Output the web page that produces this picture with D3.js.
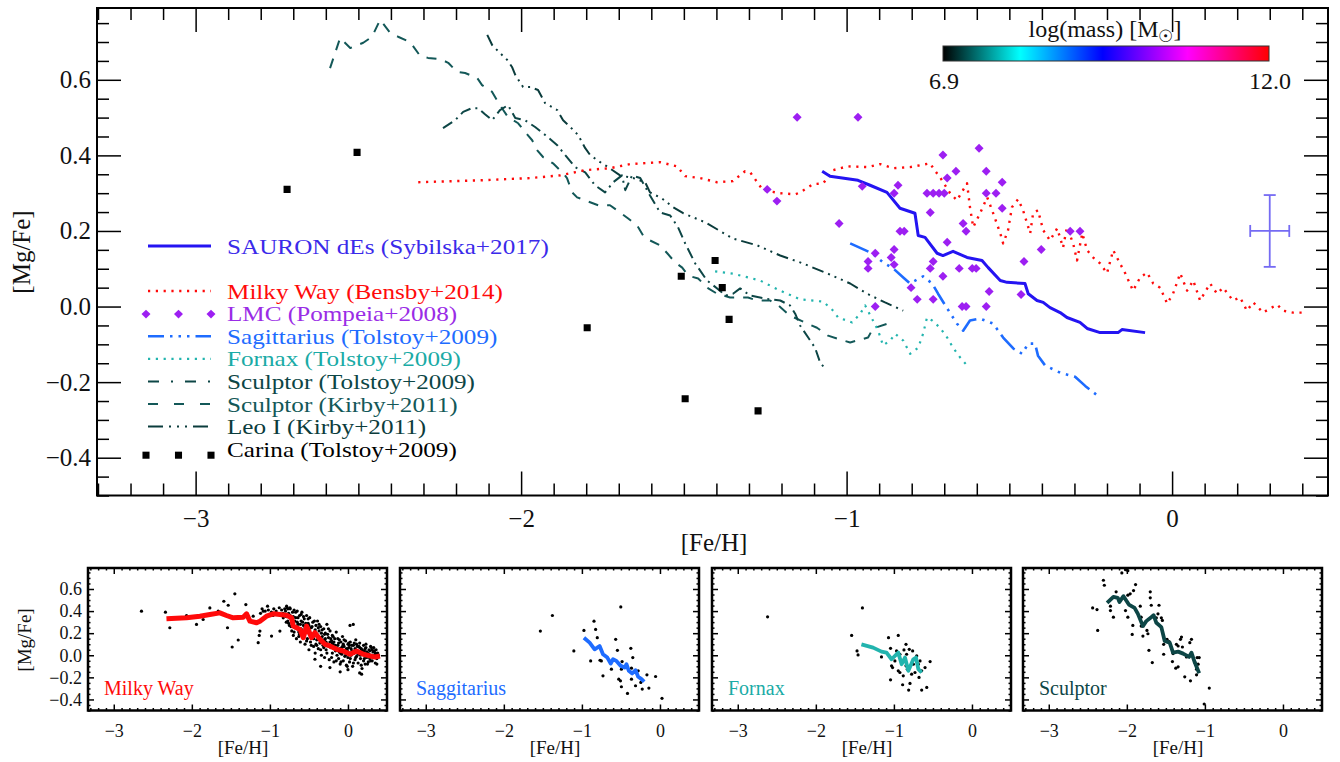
<!DOCTYPE html>
<html><head><meta charset="utf-8">
<script src="https://cdn.jsdelivr.net/npm/d3@7"></script>
<style>
body{margin:0;background:#fff}
svg{display:block}
text{font-family:"Liberation Serif","Times New Roman",serif}
</style>
</head><body>
<svg id="c" width="1340" height="762"></svg>
<script>
// ---------------- DATA ----------------
const xTicks = [-3, -2, -1, 0];
const yTicks = [-0.4, -0.2, 0.0, 0.2, 0.4, 0.6];
const panelYTicks = [-0.4, -0.2, 0.0, 0.2, 0.4, 0.6];

const sauron = [[-1.075,0.358],[-1.051,0.345],[-0.965,0.334],[-0.928,0.321],[-0.876,0.302],[-0.836,0.260],[-0.790,0.247],[-0.780,0.188],[-0.759,0.183],[-0.722,0.141],[-0.704,0.135],[-0.673,0.146],[-0.630,0.130],[-0.584,0.122],[-0.565,0.103],[-0.528,0.069],[-0.507,0.064],[-0.452,0.061],[-0.442,0.034],[-0.415,0.016],[-0.396,0.011],[-0.375,-0.003],[-0.344,-0.016],[-0.323,-0.029],[-0.283,-0.042],[-0.261,-0.058],[-0.221,-0.069],[-0.166,-0.069],[-0.154,-0.061],[-0.083,-0.069]];

const milkyWay = [[-2.316,0.329],[-2.126,0.334],[-1.972,0.340],[-1.880,0.347],[-1.803,0.361],[-1.727,0.366],[-1.665,0.377],[-1.573,0.382],[-1.521,0.371],[-1.496,0.345],[-1.450,0.340],[-1.398,0.329],[-1.349,0.332],[-1.312,0.358],[-1.296,0.355],[-1.272,0.326],[-1.257,0.308],[-1.204,0.300],[-1.158,0.297],[-1.143,0.302],[-1.103,0.324],[-1.072,0.326],[-1.041,0.361],[-0.998,0.371],[-0.934,0.369],[-0.897,0.377],[-0.857,0.366],[-0.805,0.369],[-0.743,0.379],[-0.734,0.366],[-0.713,0.342],[-0.682,0.300],[-0.661,0.281],[-0.630,0.326],[-0.621,0.263],[-0.611,0.210],[-0.590,0.247],[-0.568,0.289],[-0.553,0.255],[-0.528,0.194],[-0.519,0.167],[-0.504,0.202],[-0.492,0.263],[-0.473,0.284],[-0.458,0.255],[-0.436,0.194],[-0.427,0.247],[-0.412,0.255],[-0.396,0.202],[-0.375,0.175],[-0.353,0.207],[-0.335,0.156],[-0.323,0.210],[-0.304,0.167],[-0.292,0.122],[-0.276,0.194],[-0.261,0.149],[-0.243,0.130],[-0.221,0.114],[-0.200,0.088],[-0.181,0.149],[-0.160,0.114],[-0.144,0.088],[-0.120,0.042],[-0.098,0.077],[-0.077,0.090],[-0.058,0.061],[-0.037,0.050],[-0.015,0.008],[0.003,0.034],[0.025,0.088],[0.046,0.042],[0.065,0.069],[0.086,0.016],[0.117,0.061],[0.138,0.034],[0.157,0.050],[0.187,0.016],[0.209,0.024],[0.230,-0.011],[0.249,0.011],[0.280,-0.016],[0.301,-0.005],[0.323,0.005],[0.341,-0.011],[0.372,-0.016],[0.402,-0.016]];

const lmc = [[-1.152,0.501],[-0.965,0.501],[-1.244,0.310],[-1.214,0.279],[-1.023,0.220],[-0.952,0.318],[-0.842,0.321],[-0.854,0.300],[-0.753,0.300],[-0.734,0.300],[-0.716,0.300],[-0.700,0.300],[-0.743,0.249],[-0.836,0.199],[-0.823,0.199],[-0.912,0.141],[-0.854,0.151],[-0.863,0.130],[-0.934,0.119],[-0.934,0.101],[-0.854,0.111],[-0.802,0.050],[-0.783,0.019],[-0.734,0.019],[-0.743,0.101],[-0.734,0.119],[-0.912,0.000],[-0.593,0.419],[-0.704,0.401],[-0.664,0.358],[-0.571,0.358],[-0.691,0.340],[-0.522,0.329],[-0.571,0.300],[-0.541,0.300],[-0.522,0.260],[-0.642,0.220],[-0.633,0.199],[-0.313,0.199],[-0.283,0.199],[-0.691,0.170],[-0.402,0.151],[-0.455,0.119],[-0.654,0.101],[-0.614,0.101],[-0.602,0.101],[-0.704,0.080],[-0.562,0.040],[-0.464,0.032],[-0.645,0.000],[-0.633,0.000],[-0.571,0.000]];

const sagittarius = [[-0.989,0.167],[-0.922,0.141],[-0.888,0.117],[-0.857,0.101],[-0.826,0.077],[-0.805,0.061],[-0.765,0.080],[-0.737,0.061],[-0.719,0.034],[-0.691,-0.005],[-0.661,-0.045],[-0.642,-0.064],[-0.621,-0.037],[-0.590,-0.032],[-0.550,-0.045],[-0.519,-0.082],[-0.488,-0.111],[-0.461,-0.125],[-0.442,-0.098],[-0.421,-0.098],[-0.412,-0.130],[-0.390,-0.156],[-0.344,-0.175],[-0.298,-0.186],[-0.267,-0.210],[-0.221,-0.241]];

const fornax = [[-1.404,0.093],[-1.349,0.087],[-1.266,0.069],[-1.204,0.042],[-1.143,0.019],[-1.072,0.013],[-1.041,-0.011],[-1.026,-0.029],[-0.983,-0.042],[-0.958,-0.019],[-0.943,0.003],[-0.919,-0.037],[-0.903,-0.064],[-0.888,-0.103],[-0.866,-0.090],[-0.851,-0.072],[-0.826,-0.090],[-0.805,-0.125],[-0.780,-0.109],[-0.765,-0.072],[-0.753,-0.029],[-0.737,-0.037],[-0.713,-0.056],[-0.691,-0.082],[-0.673,-0.109],[-0.651,-0.135],[-0.630,-0.156]];

const sculptorT = [[-2.240,0.472],[-2.203,0.493],[-2.178,0.515],[-2.151,0.525],[-2.132,0.525],[-2.111,0.509],[-2.089,0.493],[-2.065,0.520],[-2.040,0.533],[-2.018,0.499],[-1.988,0.493],[-1.957,0.475],[-1.926,0.454],[-1.889,0.427],[-1.865,0.401],[-1.834,0.369],[-1.803,0.355],[-1.773,0.321],[-1.742,0.302],[-1.717,0.329],[-1.690,0.347],[-1.680,0.308],[-1.659,0.347],[-1.634,0.340],[-1.604,0.294],[-1.573,0.249],[-1.542,0.241],[-1.518,0.210],[-1.496,0.167],[-1.465,0.114],[-1.429,0.069],[-1.389,0.042],[-1.373,0.029],[-1.349,0.034],[-1.327,0.048],[-1.296,0.029],[-1.250,0.021],[-1.204,0.016],[-1.174,0.003],[-1.158,-0.019],[-1.143,-0.050],[-1.118,-0.082],[-1.097,-0.109],[-1.081,-0.149],[-1.066,-0.164]];

const sculptorK = [[-2.587,0.631],[-2.556,0.711],[-2.525,0.684],[-2.485,0.698],[-2.458,0.714],[-2.433,0.759],[-2.402,0.724],[-2.378,0.714],[-2.341,0.700],[-2.310,0.663],[-2.286,0.658],[-2.249,0.655],[-2.224,0.645],[-2.197,0.621],[-2.172,0.618],[-2.135,0.605],[-2.120,0.586],[-2.089,0.568],[-2.074,0.546],[-2.055,0.520],[-2.040,0.501],[-2.009,0.485],[-1.988,0.462],[-1.966,0.440],[-1.951,0.414],[-1.932,0.395],[-1.902,0.379],[-1.871,0.353],[-1.859,0.340],[-1.843,0.302],[-1.828,0.289],[-1.788,0.276],[-1.763,0.268],[-1.727,0.268],[-1.696,0.249],[-1.671,0.233],[-1.644,0.215],[-1.625,0.188],[-1.604,0.175],[-1.573,0.162],[-1.551,0.141],[-1.527,0.117],[-1.505,0.103],[-1.487,0.082],[-1.456,0.074],[-1.425,0.048],[-1.398,0.034],[-1.358,0.024],[-1.303,0.024],[-1.275,0.016],[-1.235,0.016],[-1.210,0.003],[-1.174,-0.024],[-1.121,-0.045],[-1.091,-0.056],[-1.057,-0.077],[-1.029,-0.085],[-0.989,-0.095],[-0.968,-0.090],[-0.934,-0.082],[-0.919,-0.058],[-0.873,-0.045],[-0.851,-0.042]];

const leoI = [[-2.104,0.719],[-2.089,0.692],[-2.080,0.684],[-2.065,0.671],[-2.043,0.653],[-2.028,0.634],[-2.018,0.613],[-1.994,0.581],[-1.972,0.581],[-1.948,0.573],[-1.926,0.538],[-1.889,0.520],[-1.871,0.493],[-1.849,0.475],[-1.825,0.454],[-1.803,0.419],[-1.788,0.401],[-1.757,0.382],[-1.733,0.369],[-1.696,0.347],[-1.656,0.340],[-1.619,0.329],[-1.604,0.302],[-1.567,0.286],[-1.533,0.263],[-1.502,0.247],[-1.435,0.223],[-1.349,0.180],[-1.275,0.162],[-1.204,0.135],[-1.143,0.117],[-1.060,0.088],[-0.989,0.061],[-0.937,0.034],[-0.882,0.011],[-0.826,-0.011]];

const carina = [[-2.719,0.310],[-2.504,0.408],[-1.797,-0.056],[-1.508,0.080],[-1.404,0.122],[-1.382,0.050],[-1.361,-0.034],[-1.496,-0.244],[-1.272,-0.276]];

const errorBar = {x:0.30, y:0.20, dx:0.06, dy:0.095};

const legendLabels = ["SAURON dEs (Sybilska+2017)","Milky Way (Bensby+2014)","LMC (Pompeia+2008)","Sagittarius (Tolstoy+2009)","Fornax (Tolstoy+2009)","Sculptor (Tolstoy+2009)","Sculptor (Kirby+2011)","Leo I (Kirby+2011)","Carina (Tolstoy+2009)"];

const colorbarTitle = "log(mass) [M";
const colorbarRange = ["6.9","12.0"];

const panelNames = ["Milky Way","Saggitarius","Fornax","Sculptor"];

const mwMean = [[-2.325,0.330],[-2.068,0.339],[-1.897,0.354],[-1.769,0.369],[-1.641,0.384],[-1.556,0.360],[-1.470,0.339],[-1.342,0.345],[-1.299,0.375],[-1.256,0.309],[-1.171,0.294],[-1.128,0.309],[-1.043,0.354],[-0.957,0.375],[-0.872,0.369],[-0.786,0.363],[-0.722,0.339],[-0.701,0.264],[-0.615,0.234],[-0.573,0.159],[-0.530,0.264],[-0.466,0.159],[-0.423,0.204],[-0.359,0.144],[-0.295,0.099],[-0.231,0.084],[-0.145,0.054],[-0.060,0.039],[0.026,0.009],[0.111,0.039],[0.197,0.009],[0.282,-0.006],[0.346,-0.015],[0.410,-0.006]];

const mwStars = [[-2.645,0.399],[-2.338,0.390],[-2.282,0.249],[-2.068,0.360],[-1.940,0.279],[-1.855,0.324],[-1.769,0.429],[-1.662,0.399],[-1.590,0.489],[-1.534,0.453],[-1.449,0.556],[-1.543,0.249],[-1.483,0.075],[-1.406,0.138],[-1.308,0.459],[-1.214,0.354],[-1.150,0.114],[-1.128,0.219],[-1.137,0.180],[-1.085,0.399],[-1.030,0.444],[-0.979,0.174],[-0.872,0.219],[-0.829,0.339],[-0.786,0.444],[-0.744,0.429],
[-1.10,0.42],[-1.06,0.40],[-1.02,0.41],[-0.98,0.39],[-0.95,0.42],[-0.92,0.40],[-0.90,0.37],[-0.88,0.43],[-0.85,0.41],[-0.83,0.38],[-0.81,0.42],[-1.12,0.38],[-0.96,0.36],
[-0.80,0.40],[-0.79,0.35],[-0.78,0.43],[-0.77,0.31],[-0.76,0.38],[-0.75,0.27],[-0.74,0.42],[-0.73,0.33],[-0.72,0.22],[-0.71,0.39],[-0.70,0.29],[-0.70,0.18],
[-0.69,0.41],[-0.68,0.25],[-0.67,0.34],[-0.66,0.15],[-0.65,0.40],[-0.64,0.28],[-0.63,0.21],[-0.62,0.36],[-0.61,0.12],[-0.60,0.31],[-0.60,0.24],
[-0.59,0.39],[-0.58,0.18],[-0.57,0.27],[-0.56,0.33],[-0.55,0.10],[-0.54,0.22],[-0.53,0.36],[-0.52,0.15],[-0.51,0.29],[-0.50,0.05],[-0.50,0.20],
[-0.49,0.34],[-0.48,0.12],[-0.47,0.25],[-0.46,0.17],[-0.45,0.30],[-0.44,0.08],[-0.43,0.21],[-0.42,0.02],[-0.41,0.27],[-0.40,0.14],[-0.40,0.19],
[-0.39,0.31],[-0.38,0.06],[-0.37,0.22],[-0.36,0.11],[-0.35,0.26],[-0.34,0.00],[-0.33,0.17],[-0.32,0.09],[-0.31,0.24],[-0.30,0.13],[-0.30,-0.02],
[-0.29,0.20],[-0.28,0.05],[-0.27,0.28],[-0.26,0.10],[-0.25,0.16],[-0.24,-0.04],[-0.23,0.22],[-0.22,0.07],[-0.21,0.13],[-0.20,0.02],[-0.20,0.18],
[-0.19,0.10],[-0.18,-0.06],[-0.17,0.15],[-0.16,0.04],[-0.15,0.21],[-0.14,0.00],[-0.13,0.09],[-0.12,-0.03],[-0.11,0.14],[-0.10,0.06],[-0.10,-0.08],
[-0.09,0.12],[-0.08,0.01],[-0.07,0.17],[-0.06,-0.05],[-0.05,0.08],[-0.04,0.03],[-0.03,0.13],[-0.02,-0.09],[-0.01,0.05],[0.00,-0.02],[0.00,0.10],
[0.01,0.07],[0.02,-0.06],[0.03,0.12],[0.04,0.00],[0.05,0.04],[0.06,-0.10],[0.07,0.09],[0.08,0.02],[0.09,-0.04],[0.10,0.14],[0.10,0.05],
[0.11,-0.01],[0.12,0.08],[0.13,-0.07],[0.14,0.03],[0.15,0.11],[0.16,-0.03],[0.17,0.06],[0.18,-0.12],[0.19,0.01],[0.20,0.09],[0.20,-0.05],
[0.21,0.04],[0.22,-0.08],[0.23,0.07],[0.24,-0.02],[0.25,0.02],[0.26,-0.06],[0.27,0.05],[0.28,-0.03],[0.29,0.08],[0.30,0.00],
[0.31,-0.05],[0.32,0.03],[0.33,-0.02],[0.34,0.04],[0.35,-0.07],[0.36,0.01],[0.37,-0.03],[0.38,0.02],
[0.026,0.27],[0.068,0.279],[-0.231,-0.111],[-0.423,-0.036],[0.175,-0.171],[-0.10,-0.15],[0.15,-0.16],[-0.35,-0.10],[0.00,-0.13],
[-0.79,0.30],[-0.77,0.42],[-0.75,0.36],[-0.73,0.26],[-0.71,0.33],[-0.69,0.21],[-0.67,0.39],[-0.65,0.30],[-0.63,0.17],[-0.61,0.28],[-0.59,0.22],[-0.57,0.35],[-0.55,0.25],[-0.53,0.13],[-0.51,0.33],[-0.49,0.22],[-0.47,0.09],[-0.45,0.19],[-0.43,0.31],[-0.41,0.10],[-0.39,0.18],[-0.37,0.28],[-0.35,0.05],[-0.33,0.23],[-0.31,0.07],[-0.29,0.15],[-0.27,0.02],[-0.25,0.24],[-0.23,0.12],[-0.21,-0.02],[-0.19,0.17],[-0.17,0.06],[-0.15,-0.05],[-0.13,0.15],[-0.11,0.03],[-0.09,-0.06],[-0.07,0.08],[-0.05,0.14],[-0.03,0.00],[-0.01,-0.10],[0.01,0.11],[0.03,-0.03],[0.05,0.09],[0.07,-0.07],[0.09,0.06],[0.11,0.10],[0.13,0.01],[0.15,0.07],[0.17,-0.09],[0.19,0.04],[0.21,-0.03],[0.23,0.10],[0.25,-0.08],[0.27,0.01],[0.29,-0.05],[0.31,0.05],[0.33,0.07],[0.35,0.02],[0.37,-0.08],[0.39,0.00],
[-0.78,0.37],[-0.76,0.29],[-0.74,0.36],[-0.72,0.30],[-0.70,0.35],[-0.68,0.31],[-0.66,0.26],[-0.64,0.34],[-0.62,0.19],[-0.60,0.37],[-0.58,0.30],[-0.56,0.20],[-0.54,0.29],[-0.52,0.24],[-0.50,0.27],[-0.48,0.18],[-0.46,0.26],[-0.44,0.15],[-0.42,0.23],[-0.40,0.09],[-0.38,0.25],[-0.36,0.16],[-0.34,0.20],[-0.32,0.14],[-0.30,0.19],[-0.28,0.12],[-0.26,0.19],[-0.24,0.08],[-0.22,0.15],[-0.20,0.11],[-0.18,0.12],[-0.16,0.09],[-0.14,0.06],[-0.12,0.11],[-0.10,0.02],[-0.08,0.07],[-0.06,0.10],[-0.04,-0.01],[-0.02,0.06],[0.00,0.03],[0.02,0.09],[0.04,0.06],[0.06,0.02],[0.08,0.11],[0.10,-0.02],[0.12,0.03],[0.14,0.08],[0.16,0.00],[0.18,0.05],[0.20,0.01],[0.22,0.06],[0.24,0.03],[0.26,0.00],[0.28,0.04],[0.30,0.07],[0.32,-0.01],[0.34,0.00],[0.36,0.05]];

const sagMean = [[-0.974,0.159],[-0.901,0.114],[-0.837,0.054],[-0.803,0.069],[-0.773,0.084],[-0.730,0.009],[-0.674,-0.021],[-0.631,-0.075],[-0.601,-0.036],[-0.558,-0.051],[-0.502,-0.096],[-0.451,-0.111],[-0.429,-0.081],[-0.399,-0.141],[-0.356,-0.165],[-0.313,-0.135],[-0.279,-0.195],[-0.236,-0.216],[-0.202,-0.240]];
const sagStars = [[-1.532,0.219],[-1.378,0.360],[-1.103,0.039],[-0.974,0.225],[-0.845,0.309],[-0.824,0.234],[-0.803,0.159],[-0.888,-0.051],[-0.751,-0.051],[-0.768,-0.045],[-0.730,-0.186],[-0.502,0.438],[-0.567,0.144],[-0.545,0.045],[-0.485,-0.057],[-0.494,-0.126],[-0.528,-0.216],[-0.506,-0.231],[-0.494,-0.285],[-0.416,-0.345],[-0.373,0.063],[-0.348,-0.021],[-0.365,-0.117],[-0.365,-0.216],[-0.313,-0.276],[-0.279,-0.141],[-0.245,-0.246],[-0.227,-0.306],[-0.167,-0.177],[-0.142,-0.297],[-0.056,-0.192],[0.026,-0.390],[-0.622,-0.126]];

const fnxMean = [[-1.416,0.099],[-1.266,0.069],[-1.159,0.033],[-1.094,0.024],[-1.030,-0.036],[-0.944,0.024],[-0.901,-0.081],[-0.858,-0.021],[-0.815,-0.141],[-0.751,-0.036],[-0.717,-0.021],[-0.687,-0.126],[-0.644,-0.156]];
const fnxStars = [[-2.618,0.348],[-1.403,0.429],[-1.541,0.180],[-1.472,0.039],[-1.459,0.003],[-1.159,-0.015],[-1.069,0.159],[-1.043,0.063],[-1.030,-0.096],[-1.017,-0.111],[-1.043,-0.222],[-0.944,0.180],[-0.966,0.039],[-0.923,0.009],[-0.901,-0.066],[-0.944,-0.141],[-0.880,-0.186],[-0.888,-0.267],[-0.845,0.099],[-0.837,0.009],[-0.828,-0.126],[-0.811,-0.315],[-0.794,-0.255],[-0.760,0.039],[-0.751,-0.081],[-0.730,-0.156],[-0.708,-0.006],[-0.687,-0.081],[-0.678,-0.201],[-0.644,-0.315],[-0.579,-0.291],[-0.601,-0.111],[-0.536,-0.057],[-0.871,0.048],[-0.803,0.054],[-0.987,-0.051],[-0.923,-0.156],[-0.665,-0.051],[-0.644,-0.141],[-0.773,-0.171],[-0.845,-0.096]];

const sclMean = [[-2.253,0.474],[-2.172,0.529],[-2.116,0.520],[-2.094,0.483],[-2.043,0.535],[-1.974,0.459],[-1.901,0.429],[-1.858,0.375],[-1.794,0.264],[-1.751,0.309],[-1.687,0.345],[-1.657,0.363],[-1.622,0.294],[-1.558,0.255],[-1.515,0.129],[-1.451,0.114],[-1.408,0.024],[-1.343,0.033],[-1.279,0.015],[-1.202,-0.015],[-1.172,0.024],[-1.129,-0.066],[-1.073,-0.162]];
const sclStars = [[-2.438,0.429],[-2.382,0.414],[-2.373,0.225],[-2.300,0.679],[-2.288,0.634],[-2.210,0.405],[-2.210,0.444],[-2.172,0.345],[-2.137,0.574],[-2.064,0.745],[-2.017,0.775],[-1.987,0.766],[-1.914,0.586],[-1.888,0.640],[-1.987,0.544],[-1.957,0.556],[-2.017,0.405],[-1.987,0.345],[-1.923,0.270],[-1.931,0.189],[-1.828,0.444],[-1.816,0.345],[-1.794,0.174],[-1.742,0.225],[-1.730,0.195],[-1.717,0.045],[-1.700,0.574],[-1.700,0.520],[-1.687,0.453],[-1.674,-0.066],[-1.601,0.375],[-1.588,0.453],[-1.558,0.339],[-1.545,0.315],[-1.528,0.099],[-1.528,0.009],[-1.485,0.144],[-1.459,0.123],[-1.416,-0.057],[-1.408,0.015],[-1.373,-0.117],[-1.343,-0.105],[-1.365,0.099],[-1.343,0.084],[-1.313,0.144],[-1.300,0.165],[-1.288,0.075],[-1.258,-0.195],[-1.236,-0.015],[-1.193,0.114],[-1.185,-0.231],[-1.172,0.144],[-1.129,-0.066],[-1.107,-0.126],[-1.099,-0.021],[-1.087,-0.081],[-1.073,-0.021],[-1.107,-0.177],[-0.944,-0.297],[-1.009,-0.441],[-1.816,0.264],[-1.622,0.339],[-2.094,0.489]];

// ---------------- DRAWING ----------------
const svg = d3.select("#c");
const SERIF = '"Liberation Serif","Times New Roman",serif';
const C = {
  sauron:"#2414f2", sauronTxt:"#3b2aea",
  mw:"#ff0a0a", lmc:"#9d1ff2", lmcTxt:"#9a2ce6",
  sag:"#1e6cff", fnx:"#22b4ae", fnxTxt:"#1aaba6",
  sclT:"#0d4646", sclK:"#135858", leo:"#0b3c3c", car:"#000"
};

const M = {l:97, r:1328, t:8, b:495.5};
const x = d3.scaleLinear().domain([-3.303, 0.479]).range([M.l, M.r]);
const y = d3.scaleLinear().domain([-0.5, 0.79]).range([M.b, M.t]);

function styleAxis(g, fs){
  g.select(".domain").remove();
  g.selectAll(".tick line").attr("stroke","#000").attr("stroke-width",1.5);
  g.selectAll(".tick text").attr("fill","#111").attr("font-size",fs).attr("font-family",SERIF);
}
function yTicksOf(o){ return o.panel ? panelYTicks : yTicks; }

function drawAxes(root, xs, ys, o){
  const xMinor = d3.range(-33, 5).map(i => i/10).filter(v => Math.abs(v - Math.round(v)) > 1e-6);
  const yMinor = d3.range(-10, 16).map(i => i/20).filter(v => yTicksOf(o).every(t => Math.abs(t - v) > 1e-6));
  const [x0,x1] = xs.range(), [y0,y1] = ys.range();
  const add = (tr, ax) => root.append("g").attr("transform",tr).call(ax).call(g=>styleAxis(g,o.fs));
  add(`translate(0,${y0})`, d3.axisBottom(xs).tickValues(xMinor).tickSize(-o.minor).tickSizeOuter(0).tickFormat(""));
  add(`translate(0,${y0})`, d3.axisBottom(xs).tickValues(xTicks).tickSize(-o.major).tickSizeOuter(0).tickPadding(o.xpad).tickFormat(o.xlab ? d3.format("d") : ""));
  add(`translate(0,${y1})`, d3.axisTop(xs).tickValues(xMinor).tickSize(-o.minor).tickSizeOuter(0).tickFormat(""));
  add(`translate(0,${y1})`, d3.axisTop(xs).tickValues(xTicks).tickSize(-o.major).tickSizeOuter(0).tickFormat(""));
  add(`translate(${x0},0)`, d3.axisLeft(ys).tickValues(yMinor).tickSize(-o.minor).tickSizeOuter(0).tickFormat(""));
  add(`translate(${x0},0)`, d3.axisLeft(ys).tickValues(yTicksOf(o)).tickSize(-o.major).tickSizeOuter(0).tickPadding(o.ypad).tickFormat(o.ylab ? d3.format(".1f") : ""));
  add(`translate(${x1},0)`, d3.axisRight(ys).tickValues(yMinor).tickSize(-o.minor).tickSizeOuter(0).tickFormat(""));
  add(`translate(${x1},0)`, d3.axisRight(ys).tickValues(yTicksOf(o)).tickSize(-o.major).tickSizeOuter(0).tickFormat(""));
  root.append("rect").attr("x",x0).attr("y",y1).attr("width",x1-x0).attr("height",y0-y1)
    .attr("fill","none").attr("stroke","#000").attr("stroke-width",o.frame);
}

// ---- main plot ----
const defs = svg.append("defs");
const main = svg.append("g");
defs.append("clipPath").attr("id","mainclip")
  .append("rect").attr("x",M.l).attr("y",M.t).attr("width",M.r-M.l).attr("height",M.b-M.t);
const plot = main.append("g").attr("clip-path","url(#mainclip)");
const line = d3.line().x(d=>x(d[0])).y(d=>y(d[1]));

const series = [
  {data:sculptorK, color:C.sclK, w:2, dash:"10,9"},
  {data:sculptorT, color:C.sclT, w:2, dash:"11,5,2,5"},
  {data:leoI, color:C.leo, w:2, dash:"12,5,2,5,2,5,2,5"},
  {data:milkyWay, color:C.mw, w:2.4, dash:"2.2,5.6"},
  {data:fornax, color:C.fnx, w:2.2, dash:"2.2,5.6"},
  {data:sagittarius, color:C.sag, w:2.6, dash:"20,6,2.5,6,2.5,6,2.5,6"},
  {data:sauron, color:C.sauron, w:3, dash:null}
];
series.forEach(s=>{
  plot.append("path").attr("d",line(s.data)).attr("fill","none")
    .attr("stroke",s.color).attr("stroke-width",s.w)
    .attr("stroke-dasharray",s.dash).attr("stroke-linejoin","round");
});
const diamond = d3.symbol(d3.symbolSquare, 40);
plot.selectAll(".lmc").data(lmc).join("path")
  .attr("d",diamond).attr("fill",C.lmc)
  .attr("transform",d=>`translate(${x(d[0])},${y(d[1])}) rotate(45)`);
const square = d3.symbol(d3.symbolSquare, 50);
plot.selectAll(".car").data(carina).join("path")
  .attr("d",square).attr("fill",C.car)
  .attr("transform",d=>`translate(${x(d[0])},${y(d[1])})`);

// error bar
const eb = main.append("g").attr("stroke","#5e52f2").attr("stroke-width",1.8).attr("opacity",0.85);
eb.append("line").attr("x1",x(errorBar.x)).attr("x2",x(errorBar.x)).attr("y1",y(errorBar.y-errorBar.dy)).attr("y2",y(errorBar.y+errorBar.dy));
eb.append("line").attr("x1",x(errorBar.x-errorBar.dx)).attr("x2",x(errorBar.x+errorBar.dx)).attr("y1",y(errorBar.y)).attr("y2",y(errorBar.y));
[errorBar.y-errorBar.dy, errorBar.y+errorBar.dy].forEach(v=>
  eb.append("line").attr("x1",x(errorBar.x)-6).attr("x2",x(errorBar.x)+6).attr("y1",y(v)).attr("y2",y(v)));
[errorBar.x-errorBar.dx, errorBar.x+errorBar.dx].forEach(v=>
  eb.append("line").attr("x1",x(v)).attr("x2",x(v)).attr("y1",y(errorBar.y)-6).attr("y2",y(errorBar.y)+6));

drawAxes(main, x, y, {major:24, minor:12, fs:25, xpad:14, ypad:6, xlab:true, ylab:true, frame:2});

main.append("text").attr("x",714).attr("y",551).attr("text-anchor","middle")
  .attr("font-size",25).attr("fill","#111").text("[Fe/H]");
main.append("text").attr("transform","translate(30,252) rotate(-90)").attr("text-anchor","middle")
  .attr("font-size",25).attr("fill","#111").text("[Mg/Fe]");

// ---- legend ----
const lg = main.append("g");
const rowsY = [246, 291, 313.6, 336.2, 358.8, 381.4, 404, 426.6, 449.2];
const legendStyle = [
  {c:C.sauron, t:C.sauronTxt, kind:"line", w:3, dash:null},
  {c:C.mw, t:C.mw, kind:"line", w:2.4, dash:"2.2,5.6"},
  {c:C.lmc, t:C.lmcTxt, kind:"diamond"},
  {c:C.sag, t:C.sag, kind:"line", w:2.6, dash:"16,6,2.5,6,2.5,6,2.5,6"},
  {c:C.fnx, t:C.fnxTxt, kind:"line", w:2.2, dash:"2.2,5.6"},
  {c:C.sclT, t:C.sclT, kind:"line", w:2, dash:"11,12,2,12"},
  {c:C.sclK, t:C.sclK, kind:"line", w:2, dash:"10,16"},
  {c:C.leo, t:C.leo, kind:"line", w:2, dash:"15,6,2,6,2,6,2,6"},
  {c:C.car, t:"#000", kind:"square"}
];
legendLabels.forEach((lab,i)=>{
  const st = legendStyle[i], yy = rowsY[i];
  if(st.kind==="line"){
    lg.append("line").attr("x1",148).attr("x2",211).attr("y1",yy).attr("y2",yy)
      .attr("stroke",st.c).attr("stroke-width",st.w).attr("stroke-dasharray",st.dash);
  } else {
    [146,178.5,211].forEach(xx=>{
      lg.append("path").attr("d", st.kind==="diamond" ? diamond() : square())
        .attr("fill",st.c)
        .attr("transform", st.kind==="diamond" ? `translate(${xx},${yy+0.5}) rotate(45)` : `translate(${xx},${yy+6})`);
    });
  }
  // compact height so stacked rows do not collide; widened to match the reference label widths
  lg.append("text").attr("transform",`translate(227,${yy+7.5}) scale(1.24,1)`)
    .attr("font-size",20.3).attr("fill",st.t).text(lab);
});

// ---- colorbar ----
const grad = defs.append("linearGradient").attr("id","cb").attr("x1","0%").attr("x2","100%");
[[0,"#000000"],[0.237,"#00ffff"],[0.49,"#0000ff"],[0.75,"#ff00ff"],[1,"#ff0000"]].forEach(s=>
  grad.append("stop").attr("offset",s[0]).attr("stop-color",s[1]));
main.append("rect").attr("x",943).attr("y",46).attr("width",326).attr("height",15)
  .attr("fill","url(#cb)").attr("stroke","#333").attr("stroke-width",1);
const ct = main.append("text").attr("x",1105).attr("y",37).attr("text-anchor","middle")
  .attr("font-size",24).attr("fill","#111");
ct.append("tspan").text(colorbarTitle);
ct.append("tspan").attr("dy",5).attr("font-size",17).text("\u2609");
ct.append("tspan").attr("dy",-5).text("]");
main.append("text").attr("x",929).attr("y",89).attr("font-size",24).attr("fill","#111").text(colorbarRange[0]);
main.append("text").attr("x",1291).attr("y",89).attr("text-anchor","end").attr("font-size",24).attr("fill","#111").text(colorbarRange[1]);

// ---- bottom panels ----
const panelLefts = [88, 400, 712, 1023];
const panelData = [
  {stars:mwStars, mean:mwMean, color:C.mw, txt:C.mw},
  {stars:sagStars, mean:sagMean, color:C.sag, txt:C.sag},
  {stars:fnxStars, mean:fnxMean, color:C.fnx, txt:C.fnxTxt},
  {stars:sclStars, mean:sclMean, color:C.sclT, txt:C.sclT}
];
panelData.forEach((p,i)=>{
  const L = panelLefts[i];
  const px = d3.scaleLinear().domain([-3.33, 0.5]).range([L, L+299]);
  const py = d3.scaleLinear().domain([-0.5, 0.79]).range([710.5, 568]);
  const g = svg.append("g");
  const cid = "pclip"+i;
  defs.append("clipPath").attr("id",cid).append("rect")
    .attr("x",L).attr("y",568).attr("width",299).attr("height",142.5);
  const inner = g.append("g").attr("clip-path",`url(#${cid})`);
  inner.selectAll("circle").data(p.stars).join("circle")
    .attr("cx",d=>px(d[0])).attr("cy",d=>py(d[1])).attr("r",1.6).attr("fill","#000");
  const pl = d3.line().x(d=>px(d[0])).y(d=>py(d[1]));
  inner.append("path").attr("d",pl(p.mean)).attr("fill","none").attr("stroke",p.color)
    .attr("stroke-width",i===0?5:3.8).attr("stroke-linejoin","round");
  drawAxes(g, px, py, {major:6, minor:2.5, fs:18, xpad:14, ypad:6, xlab:true, ylab:i===0, frame:2.5, panel:true});
  g.append("text").attr("x",L+16).attr("y",695).attr("font-size",20).attr("fill",p.txt).text(panelNames[i]);
  g.append("text").attr("x",L+155).attr("y",754).attr("text-anchor","middle").attr("font-size",19).attr("fill","#111").text("[Fe/H]");
});
svg.append("text").attr("transform","translate(31,640) rotate(-90)").attr("text-anchor","middle")
  .attr("font-size",19).attr("fill","#111").text("[Mg/Fe]");
</script>
</body></html>
